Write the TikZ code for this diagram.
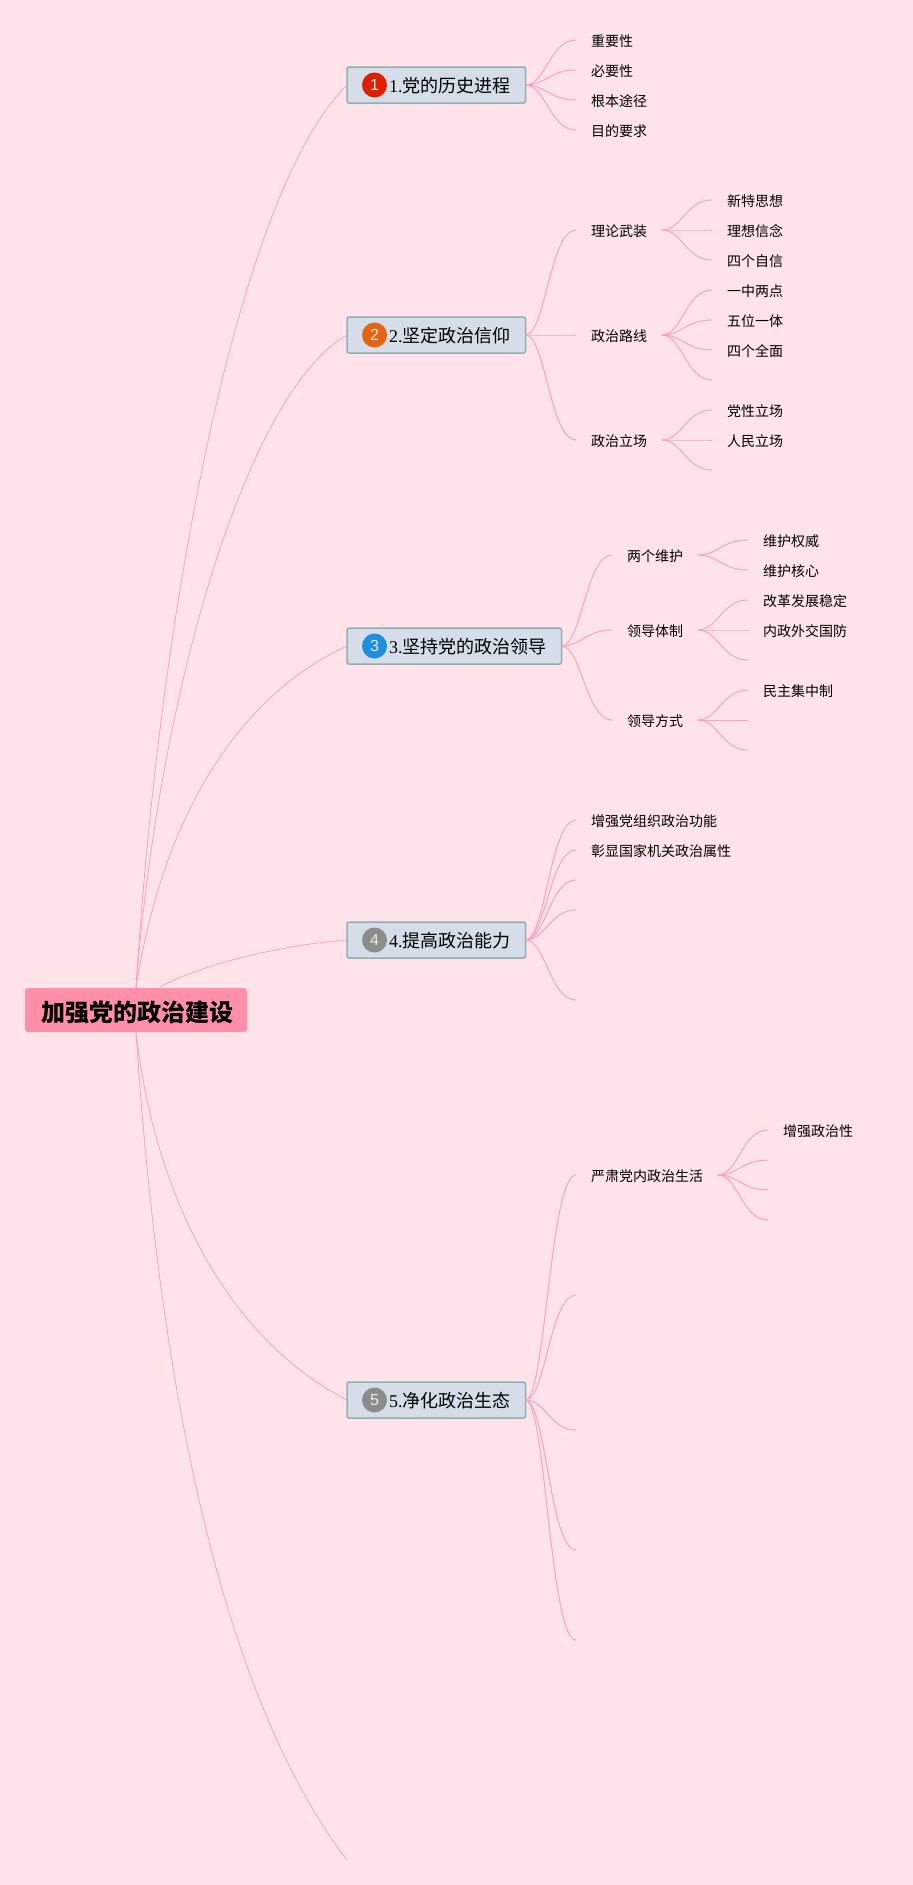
\documentclass[tikz,border=0pt]{standalone}
\usepackage{fontspec}
\setmainfont{Liberation Serif}
\newfontfamily\cjk{Noto Sans CJK SC}
\newfontfamily\dotfont{Liberation Sans}
\definecolor{PageRose}{HTML}{FEE3EB}
\definecolor{RootRose}{HTML}{FF8FA9}
\definecolor{LinkRose}{HTML}{F9A3BB}
\definecolor{TopicFill}{HTML}{D4DDE8}
\definecolor{TopicEdge}{HTML}{8FAFB0}
\definecolor{DotRed}{HTML}{E01E00}
\definecolor{DotOrange}{HTML}{E5640F}
\definecolor{DotBlue}{HTML}{1C90DC}
\definecolor{DotGrey}{HTML}{8C8C8C}
\newcommand{\latin}[1]{{\rmfamily #1}}
\tikzstyle{root}=[fill=RootRose,rounded corners=3,minimum width=222,minimum height=44,inner sep=0,outer sep=0,text height=23.4,text depth=0,font=\cjk\bfseries\fontsize{24}{24}\selectfont,execute at begin node={\kern2pt}]
\tikzstyle{topic}=[draw=TopicEdge,fill=TopicFill,line width=1.5,rounded corners=2,anchor=west,minimum height=36,inner xsep=0,inner ysep=0,outer sep=0,text height=15.4,text depth=0,font=\cjk\fontsize{18}{18}\selectfont,execute at begin node={\kern42pt},execute at end node={\kern15pt}]
\tikzstyle{dot}=[circle,minimum size=25,inner sep=0,text=white!92!black,font=\dotfont\fontsize{16}{16}\selectfont]
\tikzstyle{leaf}=[anchor=west,inner xsep=15,inner ysep=0,outer sep=0,text height=13.4,text depth=0,font=\cjk\fontsize{14}{14}\selectfont]
\tikzstyle{rootlink}=[-,draw=LinkRose,line width=0.8]
\tikzstyle{link}=[-,draw=LinkRose,line width=1]
\tikzstyle{fan}=[to path={.. controls +(20,0) and +(-26,0) .. (\tikztotarget)}]

\begin{document}
\begin{tikzpicture}[x=1pt,y=1pt]
  \path [use as bounding box,fill=PageRose] (0,0) rectangle (913,-1885);
  \node [style=root] (root) at (136,-1010) {加强党的政治建设};
  \coordinate (rootside) at (160,-987);
  \coordinate (t6) at (347,-1860);
  % topics
  \node [style=topic] (t1) at (347,-85) {\latin{1.}党的历史进程};
  \node [style=topic] (t2) at (347,-335) {\latin{2.}坚定政治信仰};
  \node [style=topic] (t3) at (347,-646) {\latin{3.}坚持党的政治领导};
  \node [style=topic] (t4) at (347,-940) {\latin{4.}提高政治能力};
  \node [style=topic] (t5) at (347,-1400) {\latin{5.}净化政治生态};
  \node [style=dot,fill=DotRed] (d1) at (374.5,-85) {1};
  \node [style=dot,fill=DotOrange] (d2) at (374.5,-335) {2};
  \node [style=dot,fill=DotBlue] (d3) at (374.5,-646) {3};
  \node [style=dot,fill=DotGrey] (d4) at (374.5,-940) {4};
  \node [style=dot,fill=DotGrey] (d5) at (374.5,-1400) {5};
  % topic 1
  \node [style=leaf] (a1) at (576,-40) {重要性};
  \node [style=leaf] (a2) at (576,-70) {必要性};
  \node [style=leaf] (a3) at (576,-100) {根本途径};
  \node [style=leaf] (a4) at (576,-130) {目的要求};
  % topic 2
  \node [style=leaf] (b1) at (576,-230) {理论武装};
  \node [style=leaf] (b2) at (576,-335) {政治路线};
  \node [style=leaf] (b3) at (576,-440) {政治立场};
  \node [style=leaf] (b11) at (712,-200) {新特思想};
  \node [style=leaf] (b12) at (712,-230) {理想信念};
  \node [style=leaf] (b13) at (712,-260) {四个自信};
  \node [style=leaf] (b21) at (712,-290) {一中两点};
  \node [style=leaf] (b22) at (712,-320) {五位一体};
  \node [style=leaf] (b23) at (712,-350) {四个全面};
  \coordinate (b24) at (712,-380);
  \node [style=leaf] (b31) at (712,-410) {党性立场};
  \node [style=leaf] (b32) at (712,-440) {人民立场};
  \coordinate (b33) at (712,-470);
  % topic 3
  \node [style=leaf] (c1) at (612,-555) {两个维护};
  \node [style=leaf] (c2) at (612,-630) {领导体制};
  \node [style=leaf] (c3) at (612,-720) {领导方式};
  \node [style=leaf] (c11) at (748,-540) {维护权威};
  \node [style=leaf] (c12) at (748,-570) {维护核心};
  \node [style=leaf] (c21) at (748,-600) {改革发展稳定};
  \node [style=leaf] (c22) at (748,-630) {内政外交国防};
  \coordinate (c23) at (748,-660);
  \node [style=leaf] (c31) at (748,-690) {民主集中制};
  \coordinate (c32) at (748,-720);
  \coordinate (c33) at (748,-750);
  % topic 4
  \node [style=leaf] (e1) at (576,-820) {增强党组织政治功能};
  \node [style=leaf] (e2) at (576,-850) {彰显国家机关政治属性};
  \coordinate (e3) at (576,-880);
  \coordinate (e4) at (576,-910);
  \coordinate (e5) at (576,-1000);
  % topic 5
  \node [style=leaf] (f1) at (576,-1175) {严肃党内政治生活};
  \coordinate (f2) at (576,-1295);
  \coordinate (f3) at (576,-1430);
  \coordinate (f4) at (576,-1550);
  \coordinate (f5) at (576,-1640);
  \node [style=leaf] (f11) at (768,-1130) {增强政治性};
  \coordinate (f12) at (768,-1160);
  \coordinate (f13) at (768,-1190);
  \coordinate (f14) at (768,-1220);
  % root links
  \draw [style=rootlink] (root.north) .. controls (160,-600) and (240,-190) .. (t1.west);
  \draw [style=rootlink] (root.north) .. controls (160,-680) and (250,-390) .. (t2.west);
  \draw [style=rootlink] (root.north) .. controls (165,-800) and (250,-690) .. (t3.west);
  \draw [style=rootlink] (rootside) .. controls (200,-965) and (280,-945) .. (t4.west);
  \draw [style=rootlink] (root.south) .. controls (155,-1200) and (230,-1340) .. (t5.west);
  \draw [style=rootlink] (root.south) .. controls (160,-1400) and (225,-1700) .. (t6);
  % branch links
  \draw [style=link] (t1.east) to [style=fan] (a1.west);
  \draw [style=link] (t1.east) to [style=fan] (a2.west);
  \draw [style=link] (t1.east) to [style=fan] (a3.west);
  \draw [style=link] (t1.east) to [style=fan] (a4.west);
  \draw [style=link] (t2.east) to [style=fan] (b1.west);
  \draw [style=link] (t2.east) to [style=fan] (b2.west);
  \draw [style=link] (t2.east) to [style=fan] (b3.west);
  \draw [style=link] (b1.east) to [style=fan] (b11.west);
  \draw [style=link] (b1.east) to [style=fan] (b12.west);
  \draw [style=link] (b1.east) to [style=fan] (b13.west);
  \draw [style=link] (b2.east) to [style=fan] (b21.west);
  \draw [style=link] (b2.east) to [style=fan] (b22.west);
  \draw [style=link] (b2.east) to [style=fan] (b23.west);
  \draw [style=link] (b2.east) to [style=fan] (b24);
  \draw [style=link] (b3.east) to [style=fan] (b31.west);
  \draw [style=link] (b3.east) to [style=fan] (b32.west);
  \draw [style=link] (b3.east) to [style=fan] (b33);
  \draw [style=link] (t3.east) to [style=fan] (c1.west);
  \draw [style=link] (t3.east) to [style=fan] (c2.west);
  \draw [style=link] (t3.east) to [style=fan] (c3.west);
  \draw [style=link] (c1.east) to [style=fan] (c11.west);
  \draw [style=link] (c1.east) to [style=fan] (c12.west);
  \draw [style=link] (c2.east) to [style=fan] (c21.west);
  \draw [style=link] (c2.east) to [style=fan] (c22.west);
  \draw [style=link] (c2.east) to [style=fan] (c23);
  \draw [style=link] (c3.east) to [style=fan] (c31.west);
  \draw [style=link] (c3.east) to [style=fan] (c32);
  \draw [style=link] (c3.east) to [style=fan] (c33);
  \draw [style=link] (t4.east) to [style=fan] (e1.west);
  \draw [style=link] (t4.east) to [style=fan] (e2.west);
  \draw [style=link] (t4.east) to [style=fan] (e3);
  \draw [style=link] (t4.east) to [style=fan] (e4);
  \draw [style=link] (t4.east) to [style=fan] (e5);
  \draw [style=link] (t5.east) to [style=fan] (f1.west);
  \draw [style=link] (t5.east) to [style=fan] (f2);
  \draw [style=link] (t5.east) to [style=fan] (f3);
  \draw [style=link] (t5.east) to [style=fan] (f4);
  \draw [style=link] (t5.east) to [style=fan] (f5);
  \draw [style=link] (f1.east) to [style=fan] (f11.west);
  \draw [style=link] (f1.east) to [style=fan] (f12);
  \draw [style=link] (f1.east) to [style=fan] (f13);
  \draw [style=link] (f1.east) to [style=fan] (f14);
\end{tikzpicture}
\end{document}
